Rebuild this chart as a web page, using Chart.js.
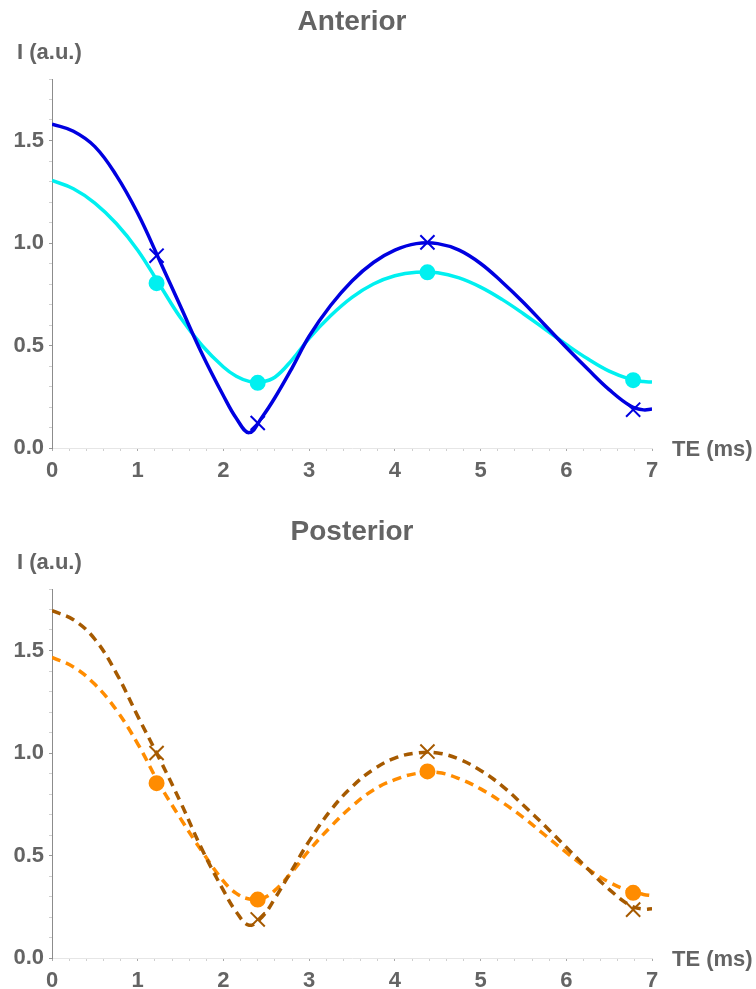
<!DOCTYPE html>
<html>
<head>
<meta charset="utf-8">
<script src="https://cdn.jsdelivr.net/npm/chart.js@4.4.0/dist/chart.umd.min.js"></script>
<style>
html,body{margin:0;padding:0;background:#fff;overflow:hidden;}
.caixa{position:absolute;left:0;width:756px;height:510px;}
#caixa1{top:0;}
#caixa2{top:510px;}
</style>
</head>
<body>
<div class="caixa" id="caixa1"><canvas id="grafAnterior"></canvas></div>
<div class="caixa" id="caixa2"><canvas id="grafPosterior"></canvas></div>
<script>
/* DADOS */
// TE (ms) where the fitted curves were read
const teCurva = [0, 0.25, 0.5, 0.75, 1, 1.25, 1.5, 1.75, 2, 2.15, 2.3, 2.45, 2.6, 2.8, 3, 3.25, 3.5, 3.75, 4, 4.25, 4.5, 4.75, 5, 5.25, 5.5, 5.75, 6, 6.25, 6.5, 6.75, 6.9, 7];
// measured echo times
const teMedida = [1.22, 2.4, 4.38, 6.78];

// Anterior
const anteriorAzul  = [1.58, 1.545, 1.47, 1.33, 1.145, 0.92, 0.69, 0.46, 0.255, 0.145, 0.075, 0.15, 0.245, 0.39, 0.545, 0.695, 0.815, 0.905, 0.965, 0.997, 0.997, 0.965, 0.90, 0.81, 0.71, 0.60, 0.49, 0.385, 0.285, 0.205, 0.186, 0.19];
const anteriorCiano = [1.305, 1.265, 1.195, 1.095, 0.965, 0.80, 0.635, 0.50, 0.395, 0.35, 0.325, 0.323, 0.345, 0.43, 0.535, 0.645, 0.735, 0.80, 0.84, 0.857, 0.855, 0.83, 0.785, 0.725, 0.655, 0.58, 0.505, 0.435, 0.375, 0.335, 0.324, 0.322];
const anteriorXis   = [0.938, 0.122, 1.003, 0.187];
const anteriorBola  = [0.804, 0.318, 0.857, 0.331];

// Posterior
const posteriorMarrom  = [1.694, 1.65, 1.555, 1.39, 1.18, 0.975, 0.76, 0.53, 0.33, 0.225, 0.16, 0.2, 0.29, 0.43, 0.57, 0.72, 0.835, 0.92, 0.975, 1.0, 1.0, 0.97, 0.915, 0.84, 0.745, 0.645, 0.54, 0.435, 0.335, 0.255, 0.238, 0.24];
const posteriorLaranja = [1.467, 1.42, 1.335, 1.21, 1.045, 0.85, 0.68, 0.52, 0.375, 0.315, 0.288, 0.29, 0.33, 0.42, 0.525, 0.64, 0.74, 0.82, 0.87, 0.9, 0.905, 0.875, 0.825, 0.76, 0.685, 0.60, 0.515, 0.435, 0.37, 0.325, 0.31, 0.304];
const posteriorXis     = [1.0, 0.188, 1.007, 0.236];
const posteriorBola    = [0.853, 0.285, 0.91, 0.318];

// tick labels
const marcasX = [0, 1, 2, 3, 4, 5, 6, 7];
const marcasY = [0, 0.5, 1.0, 1.5];

/* ESTILO */
const cinza = '#646464';
const fonte = "'Liberation Sans', Arial, sans-serif";

function pontos(xs, ys){ return xs.map((x, i) => ({x: x, y: ys[i]})); }
function temMarca(lista, v){ return lista.some(m => Math.abs(m - v) < 1e-6); }

// titles and axis names
const rotulos = {
  id: 'rotulos',
  afterDraw(chart, args, opts){
    const ctx = chart.ctx, a = chart.chartArea;
    ctx.save();
    ctx.fillStyle = cinza;
    ctx.textBaseline = 'middle';
    ctx.font = 'bold 28px ' + fonte;
    ctx.textAlign = 'center';
    ctx.fillText(opts.titulo, (a.left + a.right) / 2, 22);
    ctx.font = 'bold 22px ' + fonte;
    ctx.textAlign = 'left';
    ctx.fillText('I (a.u.)', 17, 53);
    ctx.fillText('TE (ms)', a.right + 20, a.bottom + 2);
    ctx.restore();
  }
};

function escalas(){
  return {
    x: {
      type: 'linear', min: 0, max: 7,
      border: {color: '#e6e6e6', width: 1},
      grid: {drawOnChartArea: false, tickLength: 3,
        tickColor: c => (c.tick && temMarca(marcasX, c.tick.value)) ? '#aaa' : '#d0d0d0'},
      ticks: {stepSize: 0.2, maxTicksLimit: 100, autoSkip: false, maxRotation: 0, padding: 7,
        color: cinza, font: {family: fonte, size: 22, weight: 'bold'},
        callback: v => temMarca(marcasX, v) ? String(Math.round(v)) : ''},
      afterFit: s => { s.height = 62; }
    },
    y: {
      type: 'linear', min: 0, max: 1.8,
      border: {color: '#8c8c8c', width: 1},
      grid: {drawOnChartArea: false, tickLength: 3,
        tickColor: c => (c.tick && temMarca(marcasY, c.tick.value)) ? '#999' : '#d0d0d0'},
      ticks: {stepSize: 0.1, maxTicksLimit: 100, autoSkip: false, padding: 5,
        color: cinza, font: {family: fonte, size: 22, weight: 'bold'},
        callback: v => temMarca(marcasY, v) ? v.toFixed(1) : ''},
      afterFit: s => { s.width = 52; }
    }
  };
}

function curva(dados, cor, tracejado){
  return {data: pontos(teCurva, dados), borderColor: cor, borderWidth: 3.5,
    borderDash: tracejado ? [9, 6] : [], pointRadius: 0, pointHoverRadius: 0,
    tension: 0.4, fill: false};
}
function marcador(dados, cor, estilo){
  return {data: pontos(teMedida, dados), showLine: false, pointStyle: estilo,
    pointRadius: estilo === 'circle' ? 7 : 10, pointBorderWidth: 2,
    pointBackgroundColor: cor, pointBorderColor: cor};
}

function grafico(id, titulo, sets){
  new Chart(document.getElementById(id), {
    type: 'line',
    data: {datasets: sets},
    options: {
      responsive: true, maintainAspectRatio: false, animation: false, events: [],
      layout: {padding: {top: 79, right: 104, left: 0, bottom: 0}},
      plugins: {legend: {display: false}, tooltip: {enabled: false}, rotulos: {titulo: titulo}},
      scales: escalas()
    },
    plugins: [rotulos]
  });
}

/* GRÁFICOS */
grafico('grafAnterior', 'Anterior', [
  marcador(anteriorXis, '#0000E0', 'crossRot'),
  marcador(anteriorBola, '#00F0F0', 'circle'),
  curva(anteriorAzul, '#0000E0', false),
  curva(anteriorCiano, '#00F0F0', false)
]);

grafico('grafPosterior', 'Posterior', [
  marcador(posteriorXis, '#A65A00', 'crossRot'),
  marcador(posteriorBola, '#FF8C00', 'circle'),
  curva(posteriorMarrom, '#A65A00', true),
  curva(posteriorLaranja, '#FF8C00', true)
]);
</script>
</body>
</html>
